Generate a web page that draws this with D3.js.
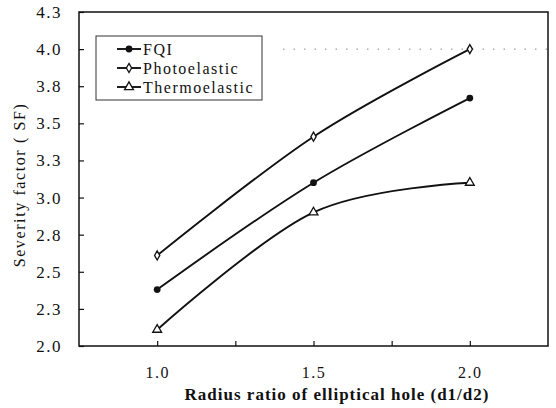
<!DOCTYPE html>
<meta charset="utf-8">
<style>
body { margin: 0; background: #fff; }
svg { display: block; font-family: "Liberation Serif", "Times New Roman", serif; }
.axis path { display: none; }
.axis line { stroke: #111; stroke-width: 1.2px; }
.axis text { font-family: "Liberation Serif", "Times New Roman", serif; font-size: 17px; fill: #111; letter-spacing: 1.5px; }
.axis--x text { font-size: 16px; }
.line { fill: none; stroke: #111; stroke-width: 1.9px; }
</style>
<svg width="556" height="408"></svg>
<script src="https://cdn.jsdelivr.net/npm/d3@7"></script>
<script>

// values
var ratios = [1.0, 1.5, 2.0];
var fqi = [2.38, 3.10, 3.67];
var photoelastic = [2.61, 3.41, 4.00];
var thermoelastic = [2.11, 2.90, 3.10];
var seriesNames = ["FQI", "Photoelastic", "Thermoelastic"];
var yTicks = [2.0, 2.25, 2.5, 2.75, 3.0, 3.25, 3.5, 3.75, 4.0, 4.25];
var xTicks = [1.0, 1.25, 1.5, 1.75, 2.0];
var xLabels = [1.0, 1.5, 2.0];

var svg = d3.select("svg"),
    plot = {left: 79, right: 548, top: 12, bottom: 346};

var x = d3.scaleLinear().domain([0.75, 2.25]).range([plot.left, plot.right]),
    y = d3.scaleLinear().domain([2, 4.25]).range([plot.bottom, plot.top]);

var series = [
  {name: seriesNames[0], values: fqi, symbol: "circle"},
  {name: seriesNames[1], values: photoelastic, symbol: "diamond"},
  {name: seriesNames[2], values: thermoelastic, symbol: "triangle"}
];

// faint dotted gridline left over at 4.0
svg.append("line")
    .attr("x1", 283).attr("x2", plot.right)
    .attr("y1", y(4.0)).attr("y2", y(4.0))
    .style("stroke", "#888")
    .style("stroke-width", 1)
    .style("stroke-dasharray", "1.5,9");

// frame
svg.append("rect")
    .attr("x", plot.left).attr("y", plot.top)
    .attr("width", plot.right - plot.left).attr("height", plot.bottom - plot.top)
    .style("fill", "none")
    .style("stroke", "#111")
    .style("stroke-width", 1.5);

svg.append("g")
    .attr("class", "axis axis--y")
    .attr("transform", "translate(" + plot.left + ",0)")
    .call(d3.axisLeft(y).tickValues(yTicks).tickSizeInner(-5).tickSizeOuter(0)
      .tickPadding(17).tickFormat(d3.format(".1f")));

svg.append("g")
    .attr("class", "axis axis--x")
    .attr("transform", "translate(0," + plot.bottom + ")")
    .call(d3.axisBottom(x).tickValues(xTicks).tickSizeInner(-5).tickSizeOuter(0)
      .tickPadding(21)
      .tickFormat(function(d) { return xLabels.indexOf(d) >= 0 ? d3.format(".1f")(d) : ""; }));

var line = d3.line()
    .curve(d3.curveCatmullRom.alpha(0))
    .x(function(d, i) { return x(ratios[i]); })
    .y(function(d) { return y(d); });

function drawSymbol(sel, kind) {
  if (kind === "circle") {
    sel.append("circle").attr("r", 3.4).style("fill", "#111");
  } else if (kind === "diamond") {
    sel.append("path").attr("d", d3.symbol(d3.symbolDiamond, 24)())
      .style("fill", "#fff").style("stroke", "#111").style("stroke-width", 1.3);
  } else {
    sel.append("path").attr("d", d3.symbol(d3.symbolTriangle, 34)())
      .style("fill", "#fff").style("stroke", "#111").style("stroke-width", 1.3);
  }
}

series.forEach(function(s) {
  svg.append("path")
      .attr("class", "line")
      .attr("d", line(s.values));
  s.values.forEach(function(v, i) {
    var g = svg.append("g").attr("transform", "translate(" + x(ratios[i]) + "," + y(v) + ")");
    drawSymbol(g, s.symbol);
  });
});

// legend
var legend = svg.append("g");
legend.append("rect")
    .attr("x", 96).attr("y", 36).attr("width", 166).attr("height", 64)
    .style("fill", "#fff").style("stroke", "#333").style("stroke-width", 1);

series.forEach(function(s, i) {
  var ly = 49 + i * 19;
  legend.append("line")
      .attr("x1", 117).attr("x2", 141).attr("y1", ly).attr("y2", ly)
      .style("stroke", "#111").style("stroke-width", 1.9);
  drawSymbol(legend.append("g").attr("transform", "translate(129," + ly + ")"), s.symbol);
  legend.append("text")
      .attr("x", 143).attr("y", ly + 5.5)
      .style("font-size", "16px")
      .style("letter-spacing", "1.5px")
      .style("fill", "#111")
      .text(s.name);
});

svg.append("text")
    .attr("x", 337).attr("y", 400)
    .style("text-anchor", "middle")
    .style("font-size", "17px")
    .style("font-weight", "bold")
    .style("letter-spacing", "1px")
    .style("fill", "#111")
    .text("Radius ratio of elliptical hole (d1/d2)");

svg.append("text")
    .attr("transform", "translate(25,185) rotate(-90)")
    .style("text-anchor", "middle")
    .style("font-size", "16px")
    .style("letter-spacing", "1.6px")
    .style("fill", "#111")
    .text("Severity factor ( SF)");

</script>
